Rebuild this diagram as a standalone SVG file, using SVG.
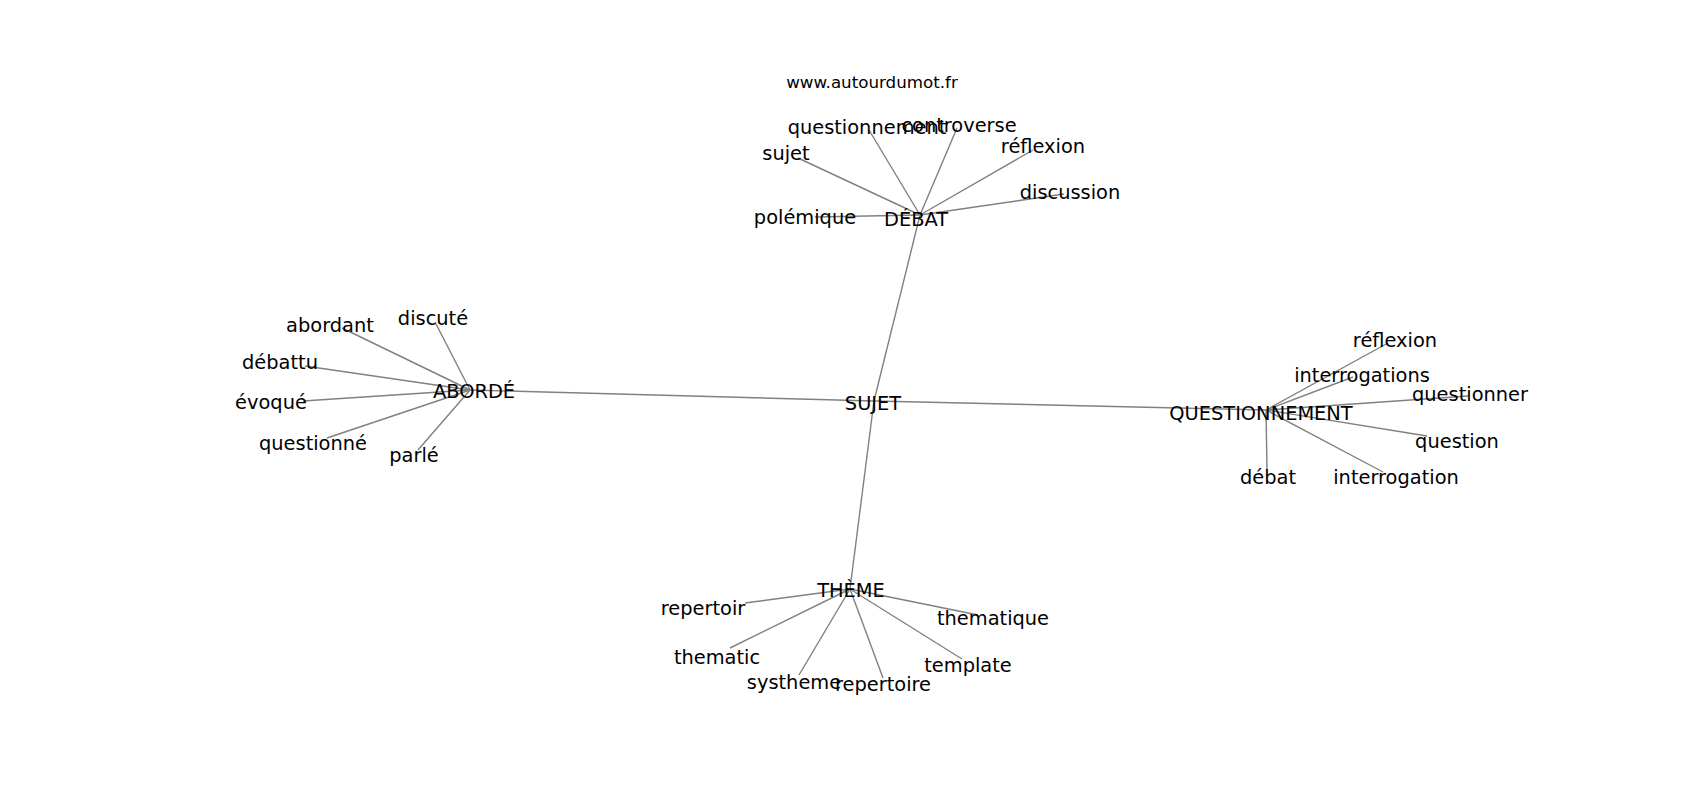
<svg xmlns="http://www.w3.org/2000/svg" width="1700" height="800" viewBox="0 0 1700 800">
<style>
text{font-family:"DejaVu Sans","Liberation Sans",sans-serif;font-size:19.4px;fill:#000;text-anchor:middle}
.src{font-size:16.7px}
#edges line{stroke:#808080;stroke-width:1.4}
</style>
<rect width="1700" height="800" fill="#fff"/>
<g id="edges">
<line x1="874" y1="401" x2="920" y2="215"/>
<line x1="874" y1="401" x2="470" y2="390"/>
<line x1="874" y1="401" x2="1266" y2="410"/>
<line x1="874" y1="401" x2="850" y2="589"/>
<line x1="920" y1="215" x2="869" y2="130"/>
<line x1="920" y1="215" x2="957" y2="128"/>
<line x1="920" y1="215" x2="798" y2="158"/>
<line x1="920" y1="215" x2="1033" y2="150"/>
<line x1="920" y1="215" x2="1064" y2="194"/>
<line x1="920" y1="215" x2="815" y2="217"/>
<line x1="470" y1="390" x2="435" y2="322"/>
<line x1="470" y1="390" x2="342" y2="328"/>
<line x1="470" y1="390" x2="305" y2="366"/>
<line x1="470" y1="390" x2="303" y2="401"/>
<line x1="470" y1="390" x2="327" y2="438"/>
<line x1="470" y1="390" x2="418" y2="450"/>
<line x1="1266" y1="410" x2="1388" y2="343"/>
<line x1="1266" y1="410" x2="1353" y2="377"/>
<line x1="1266" y1="410" x2="1468" y2="396"/>
<line x1="1266" y1="410" x2="1427" y2="436"/>
<line x1="1266" y1="410" x2="1383" y2="472"/>
<line x1="1266" y1="410" x2="1267" y2="470"/>
<line x1="850" y1="589" x2="745" y2="603"/>
<line x1="850" y1="589" x2="730" y2="648"/>
<line x1="850" y1="589" x2="799" y2="675"/>
<line x1="850" y1="589" x2="883" y2="678"/>
<line x1="850" y1="589" x2="962" y2="659"/>
<line x1="850" y1="589" x2="978" y2="615"/>
</g>
<text class="src" x="872" y="88">www.autourdumot.fr</text>
<g transform="translate(0,1.5)">
<g id="sujet-hub"><text x="873" y="408">SUJET</text></g>
<g id="debat-hub"><text x="916" y="224">DÉBAT</text></g>
<g id="aborde-hub"><text x="474" y="396">ABORDÉ</text></g>
<g id="questionnement-hub"><text x="1261" y="418">QUESTIONNEMENT</text></g>
<g id="theme-hub"><text x="851" y="595">THÈME</text></g>
<g id="n-questionnement"><text x="867" y="132">questionnement</text></g>
<g id="n-controverse"><text x="959" y="130">controverse</text></g>
<g id="n-sujet"><text x="786" y="158">sujet</text></g>
<g id="n-reflexion1"><text x="1043" y="151">réflexion</text></g>
<g id="n-discussion"><text x="1070" y="197">discussion</text></g>
<g id="n-polemique"><text x="805" y="222">polémique</text></g>
<g id="n-discute"><text x="433" y="323">discuté</text></g>
<g id="n-abordant"><text x="330" y="330">abordant</text></g>
<g id="n-debattu"><text x="280" y="367">débattu</text></g>
<g id="n-evoque"><text x="271" y="407">évoqué</text></g>
<g id="n-questionne"><text x="313" y="448">questionné</text></g>
<g id="n-parle"><text x="414" y="460">parlé</text></g>
<g id="n-reflexion2"><text x="1395" y="345">réflexion</text></g>
<g id="n-interrogations"><text x="1362" y="380">interrogations</text></g>
<g id="n-questionner"><text x="1470" y="399">questionner</text></g>
<g id="n-question"><text x="1457" y="446">question</text></g>
<g id="n-interrogation"><text x="1396" y="482">interrogation</text></g>
<g id="n-debat"><text x="1268" y="482">débat</text></g>
<g id="n-repertoir"><text x="703" y="613">repertoir</text></g>
<g id="n-thematic"><text x="717" y="662">thematic</text></g>
<g id="n-systheme"><text x="794" y="687">systheme</text></g>
<g id="n-repertoire"><text x="883" y="689">repertoire</text></g>
<g id="n-template"><text x="968" y="670">template</text></g>
<g id="n-thematique"><text x="993" y="623">thematique</text></g>
</g>
</svg>
